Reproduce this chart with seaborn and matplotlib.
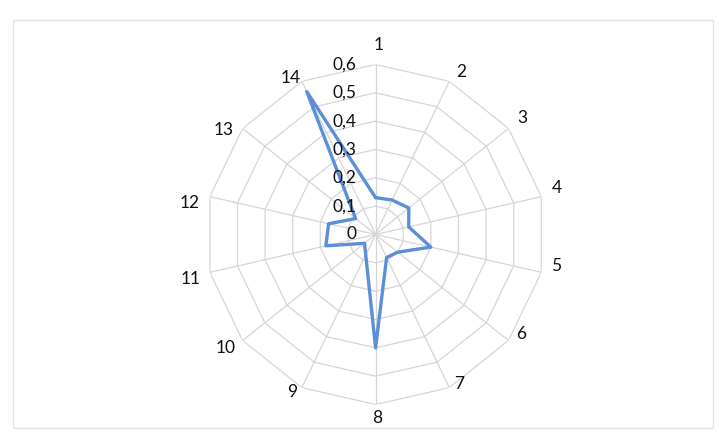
import numpy as np
import matplotlib
matplotlib.use('Agg')
import matplotlib.pyplot as plt
import matplotlib.transforms as mtransforms
from matplotlib.patches import Rectangle
import seaborn as sns

# values
categories = ['1', '2', '3', '4', '5', '6', '7', '8', '9', '10', '11', '12', '13', '14']
values = [0.13, 0.135, 0.15, 0.12, 0.20, 0.10, 0.09, 0.40, 0.08, 0.05, 0.18, 0.17, 0.09, 0.56]
ring_values = [0.1, 0.2, 0.3, 0.4, 0.5, 0.6]
ring_labels = ['0', '0,1', '0,2', '0,3', '0,4', '0,5', '0,6']

# where Excel put the category labels (angle in degrees, radius in data units)
label_angles = [0.8, 27.8, 51.5, 75.6, 99.9, 124.4, 150.8, 179.5, 207.9, 232.8, 256.4, 279.5, 304.6, 331.4]
label_radii = [0.67, 0.649, 0.661, 0.661, 0.647, 0.622, 0.606, 0.648, 0.629, 0.663, 0.671, 0.667, 0.65, 0.629]

sns.set_style('white')
plt.rcParams['font.family'] = ['Lato', 'DejaVu Sans']

fig = plt.figure(figsize=(7.19, 4.48), dpi=100)

# faint frame of the scanned chart area
fig.patches.append(Rectangle((13 / 719, 1 - 428 / 448), 700 / 719, 408 / 448,
                             transform=fig.transFigure, fill=False,
                             edgecolor='#e4e4e4', linewidth=1.0))

ax = fig.add_axes([0.2859, 0.0971, 0.4729, 0.759], projection='polar')
ax.set_theta_offset(np.pi / 2)
ax.set_theta_direction(-1)
ax.set_ylim(0, 0.6)
ax.grid(False)
ax.spines['polar'].set_visible(False)
ax.set_xticks([])
ax.set_yticks([])
ax.patch.set_alpha(0)

n = len(categories)
angles = np.linspace(0, 2 * np.pi, n, endpoint=False)
closed = np.append(angles, angles[0])

# polygon gridlines and spokes, Excel style
grid_color = '#d6d6d6'
for r in ring_values:
    ax.plot(closed, [r] * (n + 1), color=grid_color, linewidth=0.9, zorder=1)
for a in angles:
    ax.plot([a, a], [0, 0.6], color=grid_color, linewidth=0.9, zorder=1)

# data series
df_vals = np.append(values, values[0])
sns.lineplot(x=closed, y=df_vals, ax=ax, color='#5b8fd9', linewidth=2.4,
             sort=False, estimator=None, zorder=3)
ax.set_xlabel('')
ax.set_ylabel('')

# category labels
for deg, rr, lab in zip(label_angles, label_radii, categories):
    ax.text(np.deg2rad(deg), rr, lab, ha='center', va='center', fontsize=12.5,
            color='#111111', clip_on=False)

# radial value labels to the left of axis 1
offset = mtransforms.ScaledTranslation(-19 / 100, 0, fig.dpi_scale_trans)
for r, lab in zip([0] + ring_values, ring_labels):
    ax.text(0, r, lab, ha='right', va='center', fontsize=12.5, color='#111111',
            transform=ax.transData + offset)

fig.savefig('out.png', dpi=100)
